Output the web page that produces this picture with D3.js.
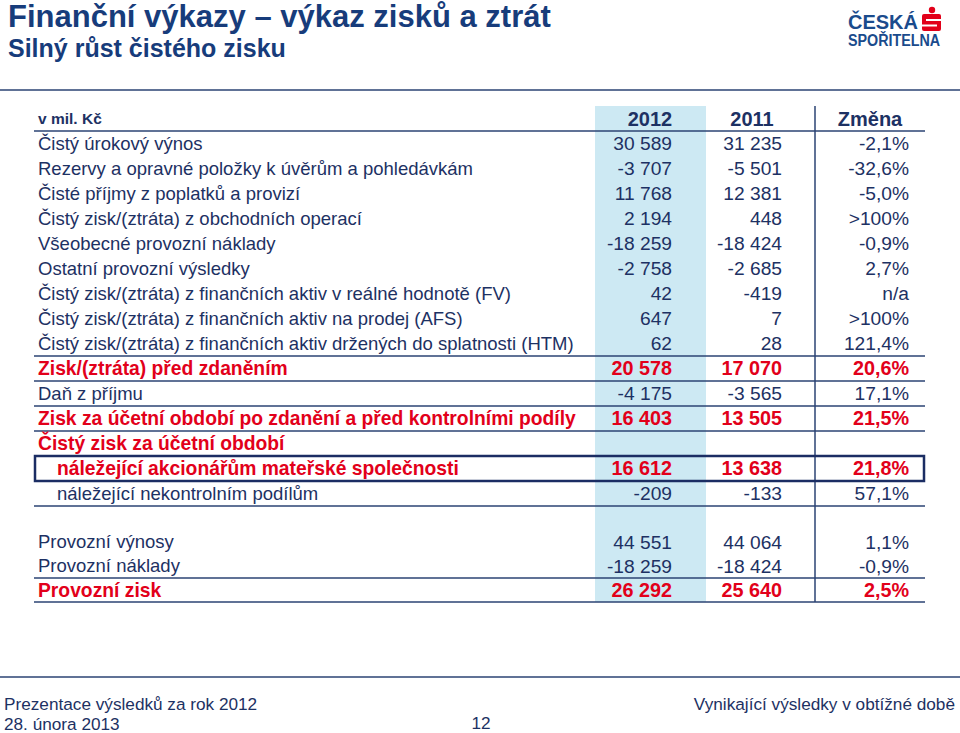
<!DOCTYPE html>
<html>
<head>
<meta charset="utf-8">
<script src="https://cdn.jsdelivr.net/npm/d3@7"></script>
<style>
  body { margin: 0; background: #fff; }
  svg { display: block; font-family: "Liberation Sans", Arial, sans-serif; }
</style>
</head>
<body>
<div id="slide"></div>
<script>
// table values (mil. Kč)
var labels = [
  "Čistý úrokový výnos",
  "Rezervy a opravné položky k úvěrům a pohledávkám",
  "Čisté příjmy z poplatků a provizí",
  "Čistý zisk/(ztráta) z obchodních operací",
  "Všeobecné provozní náklady",
  "Ostatní provozní výsledky",
  "Čistý zisk/(ztráta) z finančních aktiv v reálné hodnotě (FV)",
  "Čistý zisk/(ztráta) z finančních aktiv na prodej (AFS)",
  "Čistý zisk/(ztráta) z finančních aktiv držených do splatnosti (HTM)",
  "Zisk/(ztráta) před zdaněním",
  "Daň z příjmu",
  "Zisk za účetní období po zdanění a před kontrolními podíly",
  "Čistý zisk za účetní období",
  "náležející akcionářům mateřské společnosti",
  "náležející nekontrolním podílům"
]
var values2012 = [30589, -3707, 11768, 2194, -18259, -2758, 42, 647, 62, 20578, -4175, 16403, null, 16612, -209]
var values2011 = [31235, -5501, 12381, 448, -18424, -2685, -419, 7, 28, 17070, -3565, 13505, null, 13638, -133]
var changes = [-2.1, -32.6, -5.0, ">100%", -0.9, 2.7, "n/a", ">100%", 121.4, 20.6, 17.1, 21.5, null, 21.8, 57.1]

var opLabels = ["Provozní výnosy", "Provozní náklady", "Provozní zisk"]
var op2012 = [44551, -18259, 26292]
var op2011 = [44064, -18424, 25640]
var opChanges = [1.1, -0.9, 2.5]

var columns = ["2012", "2011", "Změna"]

// row groups
var redRows = [9, 11, 12, 13]
var indentRows = [13, 14]
var boxRow = 13
var ruledRows = [8, 9, 10, 11, 14]
var opRedRows = [2]
var opRuledRows = [1, 2]

var NAVY = "#1d3163", TITLE = "#173c7b", RED = "#e2001a", RULE = "#2b4373", BLUE = "#cde9f3"

var W = 960, H = 733
var svg = d3.select("#slide").append("svg")
  .attr("width", W)
  .attr("height", H)

var loc = d3.formatLocale({decimal: ",", thousands: " ", grouping: [3], currency: ["", ""], minus: "-"})
var fmtNum = loc.format(",d")
var fmtPct = loc.format(".1f")
function fmtChange(v) {
  if (v == null) return ""
  if (typeof v === "string") return v
  return fmtPct(v) + "%"
}

// header / title
svg.append("text").attr("x", 8).attr("y", 27)
  .attr("font-size", 31).attr("font-weight", "bold").attr("fill", TITLE)
  .text("Finanční výkazy – výkaz zisků a ztrát")
svg.append("text").attr("x", 8).attr("y", 57)
  .attr("font-size", 25).attr("font-weight", "bold").attr("fill", TITLE)
  .text("Silný růst čistého zisku")

// logo
var logo = svg.append("g")
logo.append("text").attr("x", 848).attr("y", 29)
  .attr("font-size", 20).attr("font-weight", "bold").attr("fill", "#1a4b8c")
  .attr("textLength", 70).attr("lengthAdjust", "spacingAndGlyphs")
  .text("ČESKÁ")
logo.append("text").attr("x", 848).attr("y", 46)
  .attr("font-size", 16).attr("font-weight", "bold").attr("fill", "#1a4b8c")
  .attr("textLength", 92).attr("lengthAdjust", "spacingAndGlyphs")
  .text("SPOŘITELNA")
logo.append("circle").attr("cx", 932).attr("cy", 10).attr("r", 3.2).attr("fill", RED)
logo.append("rect").attr("x", 922).attr("y", 14).attr("width", 19).attr("height", 17).attr("rx", 2).attr("fill", RED)
logo.append("line").attr("x1", 926).attr("x2", 941).attr("y1", 20).attr("y2", 20).attr("stroke", "#fff").attr("stroke-width", 2)
logo.append("line").attr("x1", 922).attr("x2", 937).attr("y1", 25.5).attr("y2", 25.5).attr("stroke", "#fff").attr("stroke-width", 2)

// top and bottom rules
svg.append("line").attr("x1", 0).attr("x2", W).attr("y1", 90).attr("y2", 90).attr("stroke", RULE).attr("stroke-width", 1.5)
svg.append("line").attr("x1", 0).attr("x2", W).attr("y1", 677).attr("y2", 677).attr("stroke", RULE).attr("stroke-width", 1.5)

// scales
var TL = 34, TR = 925
var y = d3.scaleBand().domain(d3.range(labels.length + 1)).range([106, 506])
var yOp = d3.scaleBand().domain(d3.range(opLabels.length)).range([530, 602])
var xCol = d3.scaleOrdinal().domain(columns).range([672, 782, 909])
var xHead = d3.scaleOrdinal().domain(columns).range([650, 752, 870])

// blue 2012 column and separator
svg.append("rect").attr("x", 595).attr("y", 106).attr("width", 111).attr("height", 496).attr("fill", BLUE)
svg.append("line").attr("x1", 815).attr("x2", 815).attr("y1", 106).attr("y2", 602).attr("stroke", RULE).attr("stroke-width", 1.5)

// column header
svg.append("text").attr("x", 38).attr("y", y(0) + y.bandwidth() / 2).attr("dy", "0.35em")
  .attr("font-size", 15.5).attr("font-weight", "bold").attr("fill", NAVY).text("v mil. Kč")
svg.selectAll(".colhead").data(columns).enter().append("text")
  .attr("class", "colhead")
  .attr("x", d => xHead(d)).attr("y", y(0) + y.bandwidth() / 2).attr("dy", "0.35em")
  .attr("text-anchor", "middle").attr("font-size", 20).attr("font-weight", "bold").attr("fill", NAVY)
  .text(d => d)
svg.append("line").attr("x1", TL).attr("x2", TR).attr("y1", y(0) + y.bandwidth()).attr("y2", y(0) + y.bandwidth())
  .attr("stroke", RULE).attr("stroke-width", 1.5)

function drawBlock(labs, a, b, c, yScale, offset, reds, indents, rules) {
  labs.forEach(function(lab, i) {
    var yc = yScale(i + offset) + yScale.bandwidth() / 2
    var red = reds.indexOf(i) >= 0
    var g = svg.append("g")
      .attr("fill", red ? RED : NAVY)
      .attr("font-weight", red ? "bold" : "normal")
    g.append("text").attr("x", indents.indexOf(i) >= 0 ? 57 : 38).attr("y", yc).attr("dy", "0.35em")
      .attr("font-size", red ? 19.3 : 18.5)
      .text(lab)
    var cells = [a[i] == null ? "" : fmtNum(a[i]), b[i] == null ? "" : fmtNum(b[i]), fmtChange(c[i])]
    cells.forEach(function(t, j) {
      g.append("text").attr("x", xCol(columns[j])).attr("y", yc).attr("dy", "0.35em")
        .attr("font-size", red ? 19.8 : 19.2)
        .attr("text-anchor", "end").text(t)
    })
    if (rules.indexOf(i) >= 0) {
      var yl = yScale(i + offset) + yScale.bandwidth()
      svg.append("line").attr("x1", TL).attr("x2", TR).attr("y1", yl).attr("y2", yl)
        .attr("stroke", RULE).attr("stroke-width", 1.5)
    }
  })
}

drawBlock(labels, values2012, values2011, changes, y, 1, redRows, indentRows, ruledRows)
drawBlock(opLabels, op2012, op2011, opChanges, yOp, 0, opRedRows, [], opRuledRows)

// highlighted row box
svg.append("rect")
  .attr("x", TL + 1).attr("y", y(boxRow + 1))
  .attr("width", TR - TL - 2).attr("height", y.bandwidth())
  .attr("fill", "none").attr("stroke", "#1b2d63").attr("stroke-width", 2.5)

// footer
svg.append("text").attr("x", 4).attr("y", 710).attr("font-size", 17.2).attr("fill", NAVY)
  .text("Prezentace výsledků za rok 2012")
svg.append("text").attr("x", 4).attr("y", 730).attr("font-size", 17.2).attr("fill", NAVY)
  .text("28. února 2013")
svg.append("text").attr("x", 481).attr("y", 729).attr("text-anchor", "middle").attr("font-size", 17.2).attr("fill", NAVY)
  .text("12")
svg.append("text").attr("x", 955).attr("y", 710).attr("text-anchor", "end").attr("font-size", 17.2).attr("fill", NAVY)
  .text("Vynikající výsledky v obtížné době")
</script>
</body>
</html>
